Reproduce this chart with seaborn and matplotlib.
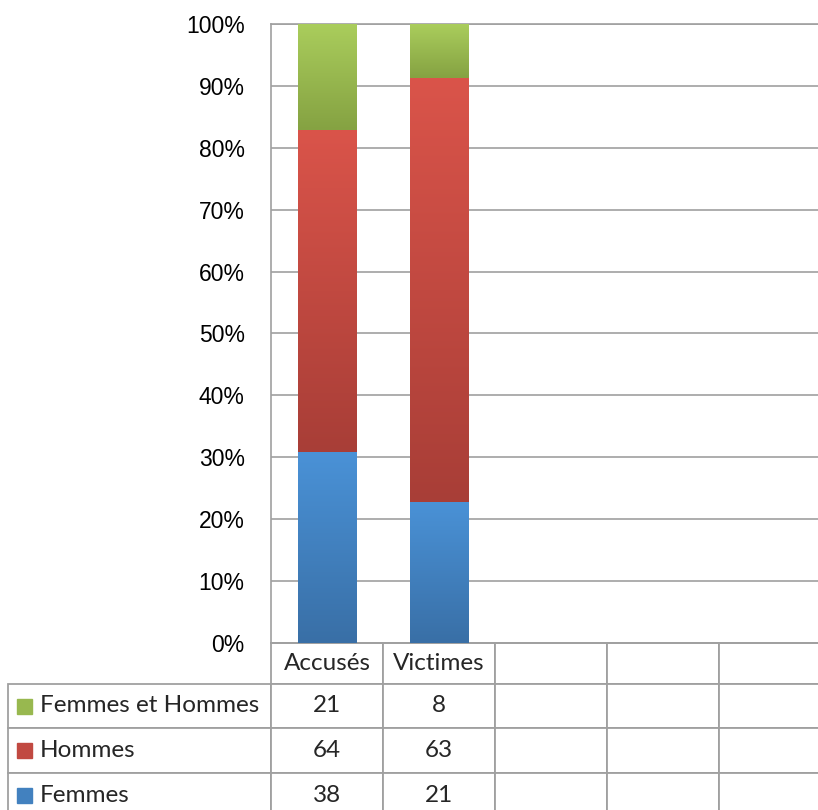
import numpy as np
import pandas as pd
import matplotlib
matplotlib.use('Agg')
import matplotlib.pyplot as plt
import seaborn as sns
from matplotlib.colors import to_rgb, LinearSegmentedColormap
from matplotlib.patches import Rectangle
from matplotlib.table import Table
from matplotlib.ticker import PercentFormatter, MultipleLocator

# données
categories = ['Accusés', 'Victimes']
series = ['Femmes et Hommes', 'Hommes', 'Femmes']
femmes_hommes = [21, 8]
hommes = [64, 63]
femmes = [38, 21]
n_slots = 5
col_labels = categories + [''] * (n_slots - len(categories))

# couleurs dégradées (haut / bas) façon Excel
color_top = {'Femmes et Hommes': '#AACD5C', 'Hommes': '#DA544A', 'Femmes': '#4A92D7'}
color_bottom = {'Femmes et Hommes': '#85A242', 'Hommes': '#A83E37', 'Femmes': '#396FA6'}
palette = {s: tuple((np.array(to_rgb(color_top[s])) + np.array(to_rgb(color_bottom[s]))) / 2)
           for s in series}

values = femmes_hommes + hommes + femmes
df = pd.DataFrame({
    'cat': categories * len(series),
    'serie': np.repeat(series, len(categories)),
    'value': values,
})

sns.set_style('white')
plt.rcParams['font.family'] = ['Liberation Sans', 'DejaVu Sans']

W, H = 818, 810
fig = plt.figure(figsize=(W / 100, H / 100), dpi=100)
ax = fig.add_axes([271 / W, 1 - 643 / H, 560 / W, 619 / H])

sns.histplot(data=df, x='cat', hue='serie', weights='value', multiple='fill',
             discrete=True, shrink=0.52, hue_order=series, palette=palette,
             alpha=1, linewidth=0, legend=False, ax=ax)

# dégradé vertical sur chaque segment
grad = np.linspace(0, 1, 256).reshape(-1, 1)
for p in list(ax.patches):
    h = p.get_height()
    if h <= 0:
        continue
    fc = np.array(to_rgb(p.get_facecolor()))
    s = min(series, key=lambda k: np.abs(np.array(palette[k]) - fc).sum())
    cmap = LinearSegmentedColormap.from_list('g', [color_bottom[s], color_top[s]])
    x, y, w = p.get_x(), p.get_y(), p.get_width()
    ax.imshow(grad, extent=(x, x + w, y, y + h), origin='lower', cmap=cmap,
              aspect='auto', zorder=3, interpolation='bilinear')

ax.set_xlim(-0.5, n_slots - 0.5)
ax.set_ylim(0, 1)
ax.yaxis.set_major_locator(MultipleLocator(0.1))
ax.yaxis.set_major_formatter(PercentFormatter(1.0, decimals=0))
ax.set_xticks([])
ax.set_xlabel('')
ax.set_ylabel('')
ax.tick_params(axis='y', length=0, pad=19, labelsize=16.5, colors='black')
ax.grid(axis='y', color='#a0a0a0', lw=1.2)
ax.set_axisbelow(True)
for side in ['left', 'bottom', 'top']:
    ax.spines[side].set_color('#a0a0a0')
    ax.spines[side].set_linewidth(1.2)
ax.spines['right'].set_visible(False)

# table de données sous le graphique
tbl = Table(ax, bbox=[(8 - 271) / 560, -174 / 619, (831 - 8) / 560, 174 / 619])
row_h = [41, 44, 45, 44]
widths = [263] + [112] * n_slots
table_fam = ['Lato', 'DejaVu Sans']
header = [''] + col_labels
for c, lab in enumerate(header):
    cell = tbl.add_cell(0, c, widths[c], row_h[0], text=lab, loc='center',
                        edgecolor='#a0a0a0', facecolor='white')
    if c == 0:
        cell.visible_edges = 'open'
rows = [femmes_hommes, hommes, femmes]
for r, (s, vals) in enumerate(zip(series, rows), start=1):
    texts = [s] + [str(v) for v in vals] + [''] * (n_slots - len(vals))
    for c, t in enumerate(texts):
        cell = tbl.add_cell(r, c, widths[c], row_h[r], text=t,
                            loc='left' if c == 0 else 'center',
                            edgecolor='#a0a0a0', facecolor='white')
        if c == 0:
            cell.PAD = 0.12
tbl.auto_set_font_size(False)
tbl.set_fontsize(17.5)
for cell in tbl.get_celld().values():
    cell.set_linewidth(1.3)
    cell.get_text().set_fontfamily(table_fam)
ax.add_table(tbl)

# petits carrés de légende
centers = [706, 750.5, 795]
for s, cy in zip(series, centers):
    fig.add_artist(Rectangle((17 / W, 1 - (cy + 7.5) / H), 15 / W, 15 / H,
                             transform=fig.transFigure, color=palette[s]))

fig.savefig('out.png', dpi=100)
